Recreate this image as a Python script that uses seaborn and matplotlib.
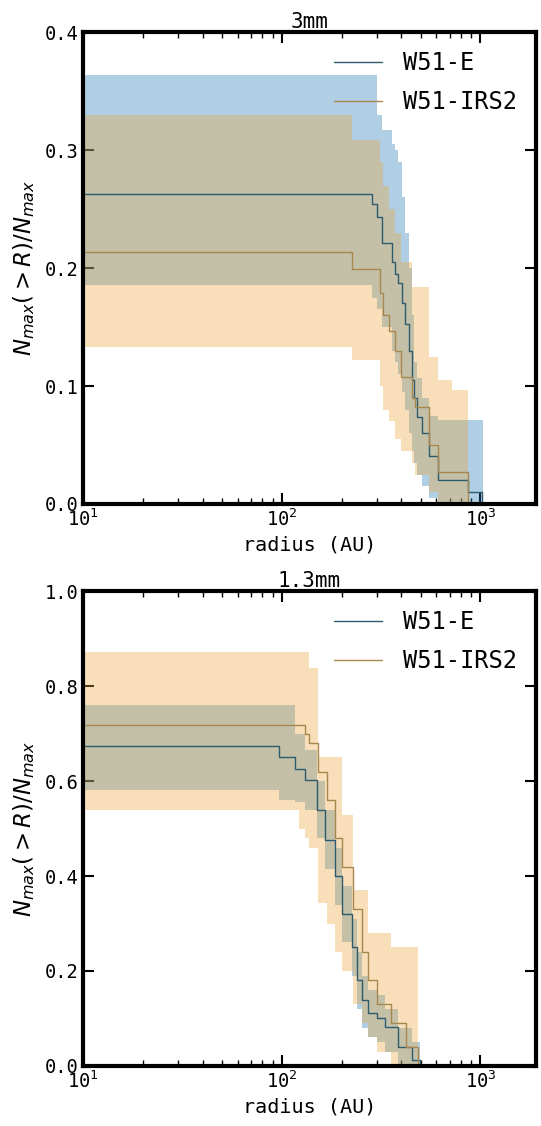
import numpy as np
import pandas as pd
import matplotlib
matplotlib.use("Agg")
import matplotlib.pyplot as plt
import seaborn as sns

# 3mm panel, W51-E
e3_radius = [10, 284, 300, 319, 358, 372, 387, 402, 418, 435, 452, 465, 479, 510, 548, 615, 871, 1016, 1034]
e3_frac = [0.263, 0.254, 0.243, 0.221, 0.205, 0.195, 0.187, 0.170, 0.153, 0.130, 0.105, 0.090, 0.074,
           0.060, 0.041, 0.020, 0.010, 0.0, 0.0]
e3_hi = [0.364, 0.364, 0.330, 0.317, 0.305, 0.300, 0.290, 0.260, 0.230, 0.200, 0.160, 0.120, 0.107,
         0.090, 0.075, 0.071, 0.071, 0.071, 0.0]
e3_lo = [0.186, 0.175, 0.165, 0.150, 0.130, 0.120, 0.110, 0.095, 0.080, 0.060, 0.045, 0.035, 0.025,
         0.015, 0.005, 0.0, 0.0, 0.0, 0.0]

# 3mm panel, W51-IRS2
i3_radius = [10, 227, 314, 325, 345, 372, 400, 452, 470, 548, 615, 720, 871]
i3_frac = [0.214, 0.199, 0.179, 0.160, 0.147, 0.130, 0.108, 0.090, 0.082, 0.050, 0.027, 0.027, 0.0]
i3_hi = [0.330, 0.309, 0.290, 0.270, 0.250, 0.230, 0.205, 0.184, 0.184, 0.125, 0.105, 0.097, 0.0]
i3_lo = [0.133, 0.122, 0.100, 0.080, 0.070, 0.055, 0.045, 0.035, 0.025, 0.010, 0.0, 0.0, 0.0]

# 1.3mm panel, W51-E
e1_radius = [10, 97, 117, 131, 150, 166, 185, 201, 225, 240, 253, 273, 300, 332, 387, 450, 498]
e1_frac = [0.674, 0.651, 0.625, 0.602, 0.540, 0.476, 0.400, 0.321, 0.251, 0.180, 0.139, 0.111, 0.100,
           0.083, 0.041, 0.013, 0.0]
e1_hi = [0.759, 0.759, 0.700, 0.665, 0.600, 0.540, 0.460, 0.380, 0.310, 0.240, 0.190, 0.160, 0.150,
         0.120, 0.080, 0.050, 0.0]
e1_lo = [0.581, 0.560, 0.555, 0.540, 0.480, 0.415, 0.340, 0.260, 0.190, 0.120, 0.080, 0.060, 0.050,
         0.030, 0.0, 0.0, 0.0]

# 1.3mm panel, W51-IRS2
i1_radius = [10, 122, 131, 137, 153, 170, 185, 200, 229, 253, 272, 300, 354, 420, 488]
i1_frac = [0.718, 0.718, 0.700, 0.680, 0.620, 0.560, 0.480, 0.420, 0.330, 0.240, 0.180, 0.130, 0.090,
           0.040, 0.0]
i1_hi = [0.872, 0.872, 0.872, 0.838, 0.651, 0.651, 0.651, 0.528, 0.371, 0.371, 0.279, 0.279, 0.251,
         0.251, 0.0]
i1_lo = [0.538, 0.500, 0.480, 0.460, 0.344, 0.300, 0.240, 0.200, 0.130, 0.090, 0.060, 0.030, 0.0,
         0.0, 0.0]

REGIONS = ["W51-E", "W51-IRS2"]
LINE_COLORS = {"W51-E": "#2e5a6e", "W51-IRS2": "#a8874e"}
BAND_COLORS = {"W51-E": ("#1f77b4", 0.35), "W51-IRS2": ("#eba63a", 0.35)}
MONO = ["DejaVu Sans Mono"]

sns.set_style("ticks")
plt.rcParams["font.family"] = ["DejaVu Sans"]
plt.rcParams["mathtext.fontset"] = "dejavusans"
plt.rcParams["text.color"] = "black"
plt.rcParams["xtick.color"] = "black"
plt.rcParams["ytick.color"] = "black"
plt.rcParams["axes.labelcolor"] = "black"

fig = plt.figure(figsize=(5.41, 11.26), dpi=100)
ax_top = fig.add_axes([0.1534, 0.5524, 0.837, 0.419])
ax_bot = fig.add_axes([0.1534, 0.0533, 0.837, 0.4218])

panels = [
    (ax_top, "3mm", 0.4, [0.0, 0.1, 0.2, 0.3, 0.4],
     {"W51-E": (e3_radius, e3_frac, e3_hi, e3_lo),
      "W51-IRS2": (i3_radius, i3_frac, i3_hi, i3_lo)}),
    (ax_bot, "1.3mm", 1.0, [0.0, 0.2, 0.4, 0.6, 0.8, 1.0],
     {"W51-E": (e1_radius, e1_frac, e1_hi, e1_lo),
      "W51-IRS2": (i1_radius, i1_frac, i1_hi, i1_lo)}),
]

for ax, title, ymax, yticks, series in panels:
    # shaded bands first, blue under orange
    for region in REGIONS:
        r, f, hi, lo = series[region]
        col, alpha = BAND_COLORS[region]
        ax.fill_between(r, lo, hi, step="post", color=col, alpha=alpha, linewidth=0)

    rows = []
    for region in REGIONS:
        r, f, hi, lo = series[region]
        rows.append(pd.DataFrame({"radius": r, "frac": f, "region": region}))
    df = pd.concat(rows, ignore_index=True)

    sns.lineplot(
        data=df, x="radius", y="frac", hue="region", hue_order=REGIONS,
        palette=LINE_COLORS, estimator=None, sort=False,
        drawstyle="steps-post", linewidth=1.0, ax=ax,
    )

    ax.set_xscale("log")
    ax.set_xlim(10, 1900)
    ax.set_ylim(0, ymax)
    ax.set_yticks(yticks)
    ax.set_title(title, fontsize=15, family=MONO, pad=3)
    ax.set_xlabel("radius (AU)", fontsize=14.5, family=MONO, labelpad=4)
    ax.set_ylabel(r"$N_{max}(>R)/N_{max}$", fontsize=16.5, labelpad=6)
    ax.tick_params(axis="both", which="both", direction="in", top=True, right=True,
                   labelsize=13.5, pad=3)
    ax.tick_params(axis="both", which="major", length=8, width=1.5)
    ax.tick_params(axis="both", which="minor", length=4, width=1.0)
    for lab in ax.get_xticklabels() + ax.get_yticklabels():
        lab.set_family(MONO)
    for spine in ax.spines.values():
        spine.set_linewidth(3)
        spine.set_color("black")

    ax.legend(loc="upper right", frameon=False, prop={"family": MONO, "size": 17},
              handlelength=2.0, handletextpad=0.9, labelspacing=0.65, borderaxespad=0.4)

fig.savefig("out.png", dpi=100)
